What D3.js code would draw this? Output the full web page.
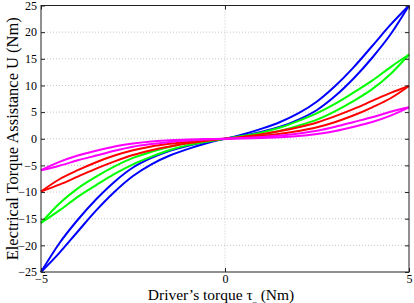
<!DOCTYPE html>
<html>
<head>
<meta charset="utf-8">
<script src="https://cdn.jsdelivr.net/npm/d3@7"></script>
<style>
  body { margin: 0; background: #fff; }
  text { font-family: "Liberation Serif", "Times New Roman", serif; fill: #000; }
</style>
</head>
<body>
<div id="chart"></div>
<script>
// driver torque samples (Nm)
const torque = [-5, -4.5, -4, -3.5, -3, -2.5, -2, -1.5, -1, -0.5, 0, 0.5, 1, 1.5, 2, 2.5, 3, 3.5, 4, 4.5, 5];

// assistance, two branches per gain
const blueUp   = [-25, -19.6, -15.2, -11.35, -8.05, -5.4, -3.6, -2.25, -1.3, -0.55, 0, 0.85, 1.9, 3.15, 4.8, 7.0, 9.95, 13.45, 17.4, 21.4, 25];
const blueDown = [-25, -21.4, -17.4, -13.45, -9.95, -7.0, -4.8, -3.15, -1.9, -0.85, 0, 0.55, 1.3, 2.25, 3.6, 5.4, 8.05, 11.35, 15.2, 19.6, 25];
const greenUp   = [-15.8, -12.15, -9.3, -7.1, -5.2, -3.6, -2.45, -1.5, -0.8, -0.35, 0, 0.55, 1.2, 2.1, 3.35, 4.8, 6.6, 8.7, 10.9, 13.45, 15.8];
const greenDown = [-15.8, -13.45, -10.9, -8.7, -6.6, -4.8, -3.35, -2.1, -1.2, -0.55, 0, 0.35, 0.8, 1.5, 2.45, 3.6, 5.2, 7.1, 9.3, 12.15, 15.8];
const redUp   = [-9.9, -7.6, -5.9, -4.4, -3.15, -2.15, -1.45, -0.95, -0.55, -0.2, 0, 0.4, 0.85, 1.45, 2.15, 3.05, 4.25, 5.6, 7.1, 8.6, 9.9];
const redDown = [-9.9, -8.6, -7.1, -5.6, -4.25, -3.05, -2.15, -1.45, -0.85, -0.4, 0, 0.2, 0.55, 0.95, 1.45, 2.15, 3.15, 4.4, 5.9, 7.6, 9.9];
const magUp   = [-5.9, -4.35, -3.15, -2.25, -1.45, -0.9, -0.5, -0.3, -0.15, -0.05, 0, 0.15, 0.35, 0.6, 1.0, 1.5, 2.25, 3.15, 4.05, 5.05, 5.9];
const magDown = [-5.9, -5.05, -4.05, -3.15, -2.25, -1.5, -1.0, -0.6, -0.35, -0.15, 0, 0.05, 0.15, 0.3, 0.5, 0.9, 1.45, 2.25, 3.15, 4.35, 5.9];

const xTicks = [-5, 0, 5];
const yTicks = [-25, -20, -15, -10, -5, 0, 5, 10, 15, 20, 25];

const series = [
    { color: "#0000ff", branches: [blueUp, blueDown] },
    { color: "#00ff00", branches: [greenUp, greenDown] },
    { color: "#ff0000", branches: [redUp, redDown] },
    { color: "#ff00ff", branches: [magUp, magDown] }
];

const WIDTH = 414, HEIGHT = 303;
const margin = { left: 41, top: 5.5, right: 5, bottom: 31 };
const w = WIDTH - margin.left - margin.right;
const h = HEIGHT - margin.top - margin.bottom;

const svgRoot = d3.select("#chart").append("svg")
    .attr("width", WIDTH)
    .attr("height", HEIGHT);

const svg = svgRoot.append("g")
    .attr("transform", `translate(${margin.left},${margin.top})`);

const x = d3.scaleLinear().domain([-5, 5]).range([0, w]);
const y = d3.scaleLinear().domain([-25, 25]).range([h, 0]);

const fmt = d => (d < 0 ? "\u2212" + Math.abs(d) : "" + d);

// grid
svg.append("g").selectAll("line")
    .data(yTicks.slice(1, -1))
    .enter().append("line")
    .attr("x1", 0).attr("x2", w)
    .attr("y1", d => y(d)).attr("y2", d => y(d))
    .attr("stroke", "#b8b8b8").attr("stroke-width", 0.8)
    .attr("stroke-dasharray", "1,2");
svg.append("g").selectAll("line")
    .data(xTicks.slice(1, -1))
    .enter().append("line")
    .attr("y1", 0).attr("y2", h)
    .attr("x1", d => x(d)).attr("x2", d => x(d))
    .attr("stroke", "#b8b8b8").attr("stroke-width", 0.8)
    .attr("stroke-dasharray", "1,2");

// curves
const line = d3.line()
    .x((d, i) => x(torque[i]))
    .y(d => y(d))
    .curve(d3.curveMonotoneX);

series.forEach(s => {
    s.branches.forEach(b => {
        svg.append("path")
            .datum(b)
            .attr("d", line)
            .attr("fill", "none")
            .attr("stroke", s.color)
            .attr("stroke-width", 2);
    });
});

// axes (ticks inward, box all round)
const axisStyle = g => {
    g.select(".domain").remove();
    g.selectAll(".tick line").attr("stroke", "#222");
    g.selectAll(".tick text").style("font-size", "12px").style("font-family", "Liberation Serif, serif");
};

svg.append("g")
    .attr("transform", `translate(0,${h})`)
    .call(d3.axisBottom(x).tickValues(xTicks).tickFormat(fmt).tickSizeInner(-4).tickSizeOuter(0).tickPadding(2))
    .call(axisStyle);
svg.append("g")
    .call(d3.axisTop(x).tickValues(xTicks).tickFormat("").tickSizeInner(-4).tickSizeOuter(0))
    .call(axisStyle);
svg.append("g")
    .call(d3.axisLeft(y).tickValues(yTicks).tickFormat(fmt).tickSizeInner(-4).tickSizeOuter(0).tickPadding(4))
    .call(axisStyle);
svg.append("g")
    .attr("transform", `translate(${w},0)`)
    .call(d3.axisRight(y).tickValues(yTicks).tickFormat("").tickSizeInner(-4).tickSizeOuter(0))
    .call(axisStyle);

svg.append("rect")
    .attr("width", w).attr("height", h)
    .attr("fill", "none").attr("stroke", "#222").attr("stroke-width", 1);

// labels
const xl = svgRoot.append("text")
    .attr("x", 221)
    .attr("y", 300)
    .attr("text-anchor", "middle")
    .style("font-size", "15.5px");
xl.append("tspan").text("Driver\u2019s torque \u03c4");
xl.append("tspan").attr("dy", 2).style("font-size", "8px").text("_");
xl.append("tspan").attr("dy", -2).text(" (Nm)");

svgRoot.append("text")
    .attr("transform", `translate(18,${margin.top + h / 2}) rotate(-90)`)
    .attr("text-anchor", "middle")
    .style("font-size", "16.5px")
    .text("Electrical Torque Assistance U (Nm)");
</script>
</body>
</html>
